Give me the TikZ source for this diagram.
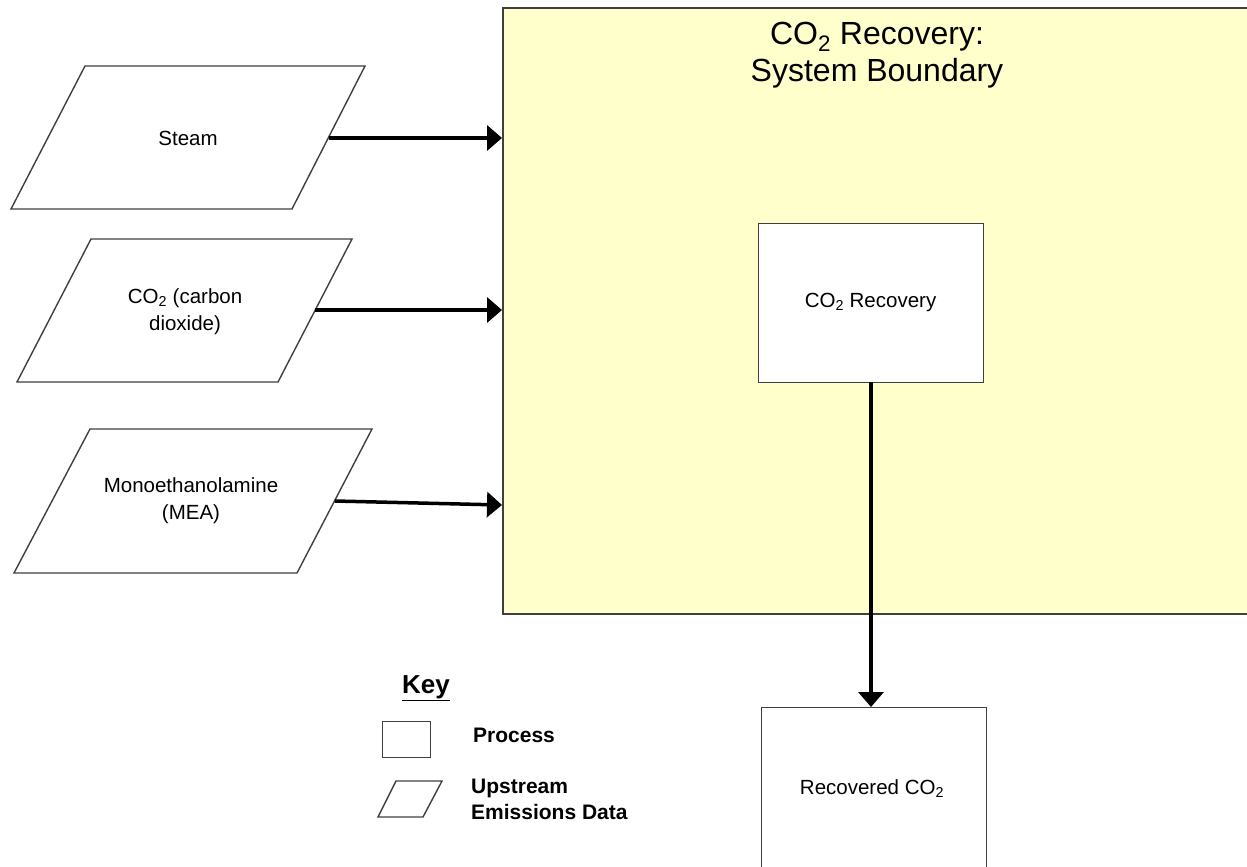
\documentclass[tikz,border=0pt]{standalone}
\usepackage{fontspec}
\setmainfont{Liberation Sans}
\usetikzlibrary{arrows.meta}
\definecolor{boundfill}{HTML}{FFFFCC}
\definecolor{edgegray}{HTML}{404040}
\begin{document}
\begin{tikzpicture}[x=1pt,y=-1pt,
  lbl/.style={font=\fontsize{20.5}{27}\selectfont, align=center, inner sep=0pt},
  shp/.style={draw=edgegray, line width=1.4pt},
  flow/.style={line width=3.5pt, -{Triangle[length=15pt,width=25pt]}},
  keytxt/.style={font=\bfseries\fontsize{21}{26}\selectfont, align=left, anchor=west, inner sep=0pt}]
\useasboundingbox (0,0) rectangle (1247,867);

% system boundary
\node[draw=edgegray, line width=2pt, fill=boundfill, anchor=north west, inner sep=0pt,
      minimum width=770pt, minimum height=606pt] (bound) at (502,7) {};
\node[font=\fontsize{32}{37}\selectfont, align=center, inner sep=0pt] (title) at (877,55)
  {CO\textsubscript{2} Recovery:\\System Boundary};

% upstream inputs (parallelograms)
\draw[shp, fill=white] (85,66) -- (365,66) -- (292,209) -- (11,209) -- cycle;
\node[lbl] (steam) at (188,138) {Steam};
\coordinate (steamR) at (328.5,138);

\draw[shp, fill=white] (91,239) -- (352,239) -- (278,382) -- (17,382) -- cycle;
\node[lbl] (co2) at (185,312) {CO\textsubscript{2} (carbon\\dioxide)};
\coordinate (co2R) at (315,310);

\draw[shp, fill=white] (90,429) -- (372,429) -- (297,573) -- (14,573) -- cycle;
\node[lbl] (mea) at (191,501) {Monoethanolamine\\(MEA)};
\coordinate (meaR) at (335,501);

% processes
\node[shp, fill=white, anchor=north west, inner sep=0pt, minimum width=225pt, minimum height=159pt]
  (rec) at (758,223) {};
\node[lbl] (rectxt) at (870.5,302) {CO\textsubscript{2} Recovery};

\node[shp, anchor=north west, inner sep=0pt, minimum width=225pt, minimum height=170pt]
  (recov) at (761,707) {};
\node[lbl] (recovtxt) at (872,789) {Recovered CO\textsubscript{2}};

% flows
\draw[flow] (steamR) -- (bound.west |- steamR);
\draw[flow] (co2R) -- (bound.west |- co2R);
\draw[flow] (meaR) -- (502,505);
\coordinate (recbot) at (871,382);
\draw[flow] (recbot) -- (recbot |- recov.north);

% key
\node[font=\bfseries\fontsize{26}{30}\selectfont, inner sep=0pt] (key) at (426,688) {\underline{Key}};
\node[shp, anchor=north west, inner sep=0pt, minimum width=48pt, minimum height=36pt] (keyproc) at (382,721) {};
\node[keytxt] (keyproctxt) at (473,735) {Process};
\draw[shp] (396,781) -- (442,781) -- (423,817) -- (378,817) -- cycle;
\node[keytxt] (keyup) at (471,799) {Upstream\\Emissions Data};
\end{tikzpicture}
\end{document}
